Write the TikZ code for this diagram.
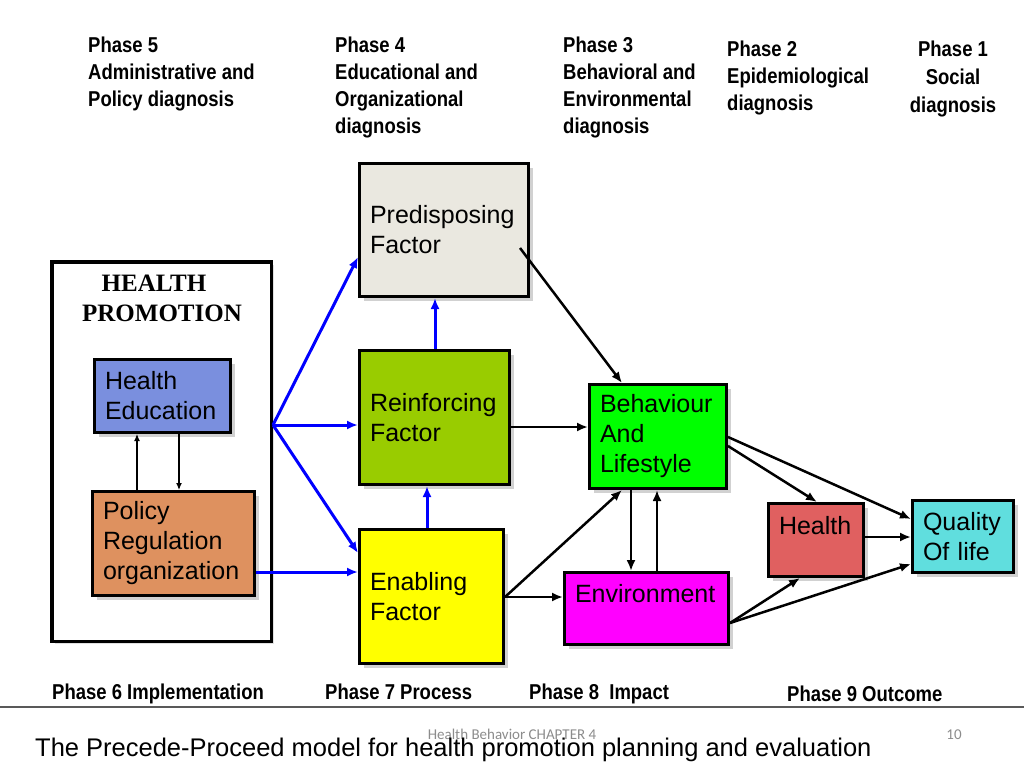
\documentclass[tikz,border=0pt]{standalone}
\usepackage{fontspec}
\setmainfont{Liberation Sans}
\newfontfamily\narrowbf[FakeStretch=0.86]{Liberation Sans Bold}
\newfontfamily\timesf{Liberation Serif}
\newfontfamily\calib{Carlito}
\usetikzlibrary{arrows.meta,shadows,calc}
\definecolor{hec}{RGB}{122,143,222}
\definecolor{polc}{RGB}{222,145,95}
\definecolor{prec}{RGB}{234,232,224}
\definecolor{rec}{RGB}{153,204,0}
\definecolor{enc}{RGB}{255,255,0}
\definecolor{behc}{RGB}{0,255,0}
\definecolor{envc}{RGB}{255,0,255}
\definecolor{hlc}{RGB}{224,96,96}
\definecolor{qolc}{RGB}{96,222,222}
\definecolor{bluec}{RGB}{0,0,255}
\tikzset{
  box/.style={draw=black, line width=3pt, inner xsep=10.5pt, inner ysep=0pt,
    align=left, font=\fontsize{25}{30}\selectfont,
    drop shadow={shadow xshift=4pt, shadow yshift=-4pt, fill=black!18, opacity=1}},
  phase/.style={font=\narrowbf\fontsize{21.5}{27}\selectfont, align=left, inner sep=0pt, anchor=base west},
  bphase/.style={font=\narrowbf\fontsize{21.5}{27}\selectfont, inner sep=0pt, anchor=base west},
  blar/.style={draw=bluec, line width=3pt, -{Latex[length=11pt,width=9pt]}},
  bkar/.style={draw=black, line width=2.5pt, -{Latex[length=11pt,width=9pt]}},
  thinar/.style={draw=black, line width=1.2pt, -{Latex[length=7pt,width=6pt]}}
}
\begin{document}
\begin{tikzpicture}[x=1pt,y=-1pt]
\useasboundingbox (0,0) rectangle (1024,768);
\fill[white] (0,0) rectangle (1024,768);

% top phase labels (anchored at the baseline of the last line)
\node[phase] (p5) at (88,106.7) {Phase 5\\Administrative and\\Policy diagnosis};
\node[phase] (p4) at (335,133.7) {Phase 4\\Educational and\\Organizational\\diagnosis};
\node[phase] (p3) at (563,133.7) {Phase 3\\Behavioral and\\Environmental\\diagnosis};
\node[phase] (p2) at (727,110) {Phase 2\\Epidemiological\\diagnosis};
\node[phase, font=\narrowbf\fontsize{21.5}{28}\selectfont, align=center, anchor=base] (p1) at (953,112) {Phase 1\\Social\\diagnosis};

% health promotion frame
\node[draw=black, line width=3.5pt, fill=white, minimum width=219.5pt, minimum height=379.5pt, inner sep=0pt,
  drop shadow={shadow xshift=3pt, shadow yshift=-3pt, fill=black!12, opacity=1}] (hp) at (161.5,451.5) {};
\node[font=\timesf\bfseries\fontsize{25}{30}\selectfont, align=center, anchor=base, inner sep=0pt] (hpt) at (162,321) {HEALTH\hspace*{16pt}\\PROMOTION};

\node[box, fill=hec, minimum width=136pt, minimum height=73pt, text width=115pt] (he) at (162.5,396) {Health\\Education};
\node[box, fill=polc, minimum width=162pt, minimum height=104pt, text width=141pt] (pol) at (173.5,543.5) {Policy\\Regulation\\organization};

% factor boxes
\node[box, fill=prec, minimum width=169pt, minimum height=133pt, text width=148pt] (pre) at (444,230) {Predisposing\\Factor};
\node[box, fill=rec, minimum width=150pt, minimum height=134pt, text width=129pt] (re) at (434.5,417.5) {Reinforcing\\Factor};
\node[box, fill=enc, minimum width=144pt, minimum height=134pt, text width=123pt] (en) at (431.5,596.5) {Enabling\\Factor};

\node[box, fill=behc, minimum width=137pt, minimum height=104pt, text width=116pt] (beh) at (658,436.5) {Behaviour\\And\\Lifestyle};
\node[box, fill=envc, minimum width=164pt, minimum height=72pt, text width=143pt] (env) at (646.5,608.5) {Environment\\\mbox{}};
\node[box, fill=hlc, minimum width=95pt, minimum height=73pt, text width=74pt] (hl) at (816,540) {Health\\\mbox{}};
\node[box, fill=qolc, minimum width=101pt, minimum height=72pt, text width=80pt] (qol) at (963,536.5) {Quality\\Of life};

% connectors inside health promotion
\draw[thinar] (pol.north -| 137,0) -- (he.south -| 137,0);
\draw[thinar] (he.south -| 179,0) -- (pol.north -| 179,0);

% blue connectors
\coordinate (hub) at (hp.east |- 0,425);
\draw[blar] (hub) -- (pre.west |- 0,257);
\draw[blar] (hub) -- (re.west |- hub);
\draw[blar] (hub) -- (en.west |- 0,553);
\draw[blar] (pol.east |- 0,572) -- (en.west |- 0,572);
\draw[blar] (re.north -| 435,0) -- (pre.south -| 435,0);
\draw[blar] (en.north -| 427,0) -- (re.south -| 427,0);

% black connectors
\coordinate (prein) at ($(pre.center)+(76,18)$);
\draw[bkar] (prein) -- (beh.north -| 622,0);
\draw[bkar] (re.east |- 0,427) -- (beh.west |- 0,427);
\draw[bkar] (en.east |- 0,597) -- (env.west |- 0,597);
\draw[bkar] (en.east |- 0,597) -- (beh.south -| 622,0);
\draw[bkar] (beh.south -| 631,0) -- (env.north -| 631,0);
\draw[bkar] (env.north -| 657,0) -- (beh.south -| 657,0);
\draw[bkar] (beh.east |- 0,437) -- (qol.west |- 0,519);
\draw[bkar] (beh.east |- 0,446) -- (hl.north -| 817,0);
\draw[bkar] (hl.east |- 0,537) -- (qol.west |- 0,537);
\draw[bkar] (env.east |- 0,623) -- (hl.south -| 800,0);
\draw[bkar] (env.east |- 0,623) -- (qol.west |- 0,564);

% bottom phase labels
\node[bphase] (p6) at (52,699.5) {Phase 6 Implementation};
\node[bphase] (p7) at (325,699.5) {Phase 7 Process};
\node[bphase] (p8) at (529,699.5) {Phase 8\ \ Impact};
\node[bphase] (p9) at (787,701.5) {Phase 9 Outcome};

\draw[line width=2pt, black!65] (0,707) -- (1024,707);

\node[font=\calib\fontsize{15}{18}\selectfont, text=black!45, anchor=base, inner sep=0pt] (ft) at (512,739) {Health Behavior CHAPTER 4};
\node[font=\calib\fontsize{15}{18}\selectfont, text=black!45, anchor=base, inner sep=0pt] (pg) at (954,739) {10};
\node[font=\fontsize{25.5}{30}\selectfont, anchor=base west, inner sep=0pt] (title) at (35,756) {The Precede-Proceed model for health promotion planning and evaluation};
\end{tikzpicture}
\end{document}
